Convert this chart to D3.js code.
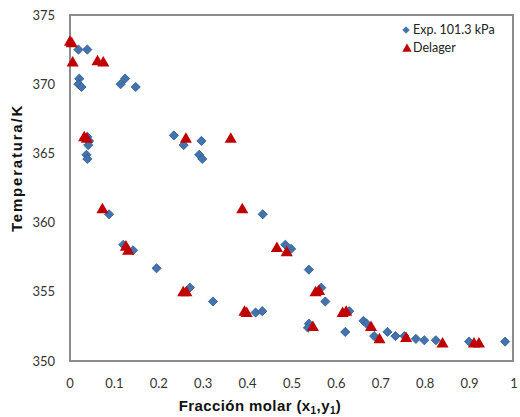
<!DOCTYPE html>
<html><head><meta charset="utf-8">
<script src="https://cdn.jsdelivr.net/npm/d3@7"></script>
<style>body{margin:0;background:#fff}svg{display:block}</style>
</head><body>
<svg id="c" width="520" height="417"></svg>
<script>
// Experimental data (diamonds) at 101.3 kPa
const expX = [0.019,0.039,0.021,0.019,0.026,0.114,0.124,0.148,0.039,0.043,0.041,0.037,0.039,
  0.234,0.256,0.296,0.291,0.298,0.088,0.120,0.142,0.195,0.270,0.322,0.418,0.433,0.434,0.485,0.498,
  0.538,0.566,0.575,0.629,0.538,0.536,0.620,0.661,0.668,0.685,0.715,0.733,0.753,0.779,0.798,0.824,0.899,0.980];
const expT = [372.5,372.5,370.4,370.0,369.8,370.0,370.4,369.8,366.2,365.9,365.6,364.9,364.6,
  366.3,365.6,365.9,364.9,364.6,360.6,358.4,358.0,356.7,355.3,354.3,353.5,353.6,360.6,358.4,358.1,
  356.6,355.3,354.3,353.6,352.7,352.4,352.1,352.9,352.7,351.8,352.1,351.8,351.8,351.6,351.5,351.5,351.4,351.4];
// Delager data (triangles)
const delX = [0.000,0.004,0.006,0.062,0.075,0.032,0.038,0.261,0.362,0.073,0.126,0.131,0.255,0.262,
  0.388,0.393,0.398,0.466,0.488,0.553,0.561,0.614,0.622,0.547,0.678,0.697,0.757,0.839,0.910,0.921];
const delT = [373.1,373.0,371.6,371.7,371.6,366.2,366.1,366.1,366.1,361.0,358.3,358.0,355.0,355.0,
  361.0,353.6,353.5,358.2,357.9,355.0,355.1,353.5,353.6,352.5,352.5,351.6,351.7,351.3,351.3,351.3];
const xTicks = [0,0.1,0.2,0.3,0.4,0.5,0.6,0.7,0.8,0.9,1];
const yTicks = [350,355,360,365,370,375];
const seriesNames = ["Exp. 101.3 kPa","Delager"];

const svg = d3.select("#c");
const L=70, R=514, T=15, B=361;
const x = d3.scaleLinear().domain([0,1]).range([L,R]);
const y = d3.scaleLinear().domain([350,375]).range([B,T]);
const font = "Lato, 'Liberation Sans', sans-serif";

// frame
svg.append("rect").attr("x",L).attr("y",T).attr("width",R-1-L).attr("height",B-T)
  .attr("fill","none").attr("stroke","#8c8c8c").attr("stroke-width",2);

// y ticks
svg.append("g").selectAll("text").data(yTicks).join("text")
  .attr("x",55).attr("y",d=>y(d)).attr("dy","0.35em").attr("text-anchor","end")
  .attr("font-family",font).attr("font-size",13).attr("fill","#333")
  .text(d=>d);
// x ticks
svg.append("g").selectAll("text").data(xTicks).join("text")
  .attr("x",d=>x(d)).attr("y",388).attr("text-anchor","middle")
  .attr("font-family",font).attr("font-size",13).attr("fill","#333")
  .text(d=>d);

// axis titles
svg.append("text").attr("transform","translate(22,168) rotate(-90)").attr("text-anchor","middle")
  .attr("font-family","'Liberation Sans', Arial, sans-serif").attr("font-weight","bold").attr("font-size",15)
  .attr("fill","#111").attr("letter-spacing","1.8").text("Temperatura/K");
const xt = svg.append("text").attr("x",260).attr("y",411).attr("text-anchor","middle")
  .attr("font-family","'Liberation Sans', Arial, sans-serif").attr("font-weight","bold").attr("font-size",15)
  .attr("letter-spacing","0.4").attr("fill","#111");
xt.append("tspan").text("Fracción molar (x");
xt.append("tspan").attr("font-size",10).attr("dy",3).text("1");
xt.append("tspan").attr("dy",-3).text(",y");
xt.append("tspan").attr("font-size",10).attr("dy",3).text("1");
xt.append("tspan").attr("dy",-3).text(")");

const diamond = d3.symbol().type(d3.symbolSquare).size(42)();
const tri = d3.symbol().type(d3.symbolTriangle).size(64)();

const expData = expX.map((v,i)=>({x:v,t:expT[i]}));
const delData = delX.map((v,i)=>({x:v,t:delT[i]}));

svg.append("g").selectAll("path").data(expData).join("path")
  .attr("d",diamond).attr("transform",d=>`translate(${x(d.x)},${y(d.t)}) rotate(45)`)
  .attr("fill","#4273ad").attr("stroke","#2f5d95").attr("stroke-width",0.8);
svg.append("g").selectAll("path").data(delData).join("path")
  .attr("d",tri).attr("transform",d=>`translate(${x(d.x)},${y(d.t)+1})`)
  .attr("fill","#c00000");

// legend
const lg = svg.append("g");
lg.append("path").attr("d",d3.symbol().type(d3.symbolSquare).size(22)()).attr("transform","translate(406,30) rotate(45)")
  .attr("fill","#4273ad").attr("stroke","#2f5d95").attr("stroke-width",0.6);
lg.append("path").attr("d",d3.symbol().type(d3.symbolTriangle).size(38)()).attr("transform","translate(407,49)")
  .attr("fill","#c00000");
lg.selectAll("text").data(seriesNames).join("text")
  .attr("x",413).attr("y",(d,i)=>30+i*18).attr("dy","0.35em")
  .attr("font-family",font).attr("font-size",12.5).attr("fill","#222").text(d=>d);
</script>
</body></html>
